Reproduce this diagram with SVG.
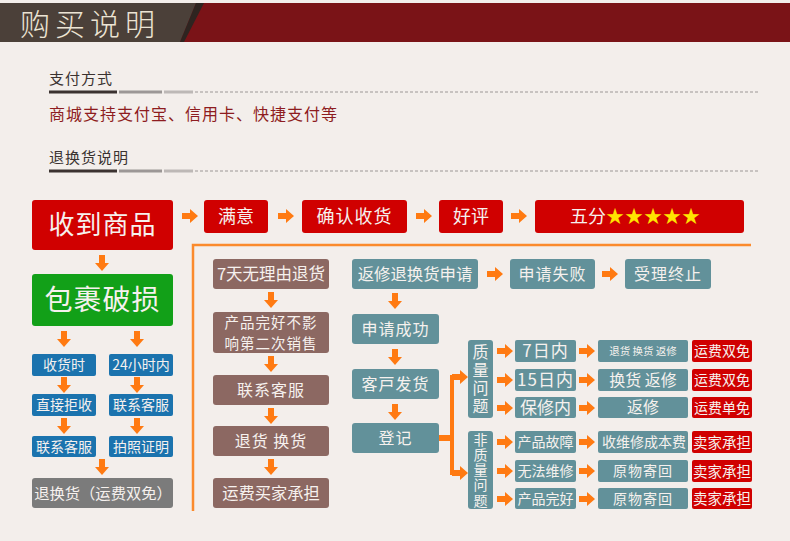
<svg xmlns="http://www.w3.org/2000/svg" width="790" height="541" viewBox="0 0 790 541">
<defs>
<style>
text{font-family:"Noto Sans CJK SC","Noto Sans",sans-serif;text-anchor:middle}
.w{fill:#f6f1ee}
.v{writing-mode:vertical-rl}
.red{fill:#d00000}
.grn{fill:#12a018}
.blu{fill:#1b73ae}
.gry{fill:#7b7b7b}
.brn{fill:#8c6862}
.tea{fill:#62919a}
.arr{fill:#ff7a12}
.ul1{stroke:#3b3230;stroke-width:3}
.ul2{stroke:#9c9796;stroke-width:3}
.ul3{stroke:#bdb8b6;stroke-width:3}
.ul4{stroke:#9c9796;stroke-width:1;stroke-dasharray:3 2}
</style>
<path id="ra" d="M0,-3 H8 V-7 L16,0 L8,7 V3 H0 Z"/>
<path id="da" d="M-3,0 V8 H-7 L0,16 L7,8 H3 V0 Z"/>
</defs>
<rect width="790" height="541" fill="#f3eeeb"/>
<!-- header -->
<g id="header">
<rect x="0" y="3" width="790" height="39" fill="#7a1317"/>
<polygon points="0,3 196,3 180,42 0,42" fill="#4b4039"/>
<polygon points="196,3 204,3 184,42 180,42" fill="#2e2420"/>
<text x="90" y="35" font-size="30" letter-spacing="5" fill="#ece4d4" style="font-weight:300">购买说明</text>
</g>
<g id="payment">
<text x="49" y="84" font-size="15" fill="#3a3230" style="text-anchor:start" letter-spacing="1">支付方式</text>
<line class="ul1" x1="49" y1="92" x2="117" y2="92"/>
<line class="ul2" x1="119" y1="92" x2="162" y2="92"/>
<line class="ul3" x1="164" y1="92" x2="193" y2="92"/>
<line class="ul4" x1="195" y1="92" x2="760" y2="92"/>
<text x="49" y="120" font-size="16" fill="#8e1c20" style="text-anchor:start" letter-spacing="1">商城支持支付宝、信用卡、快捷支付等</text>
</g>
<g id="returns-title">
<text x="49" y="163" font-size="15" fill="#3a3230" style="text-anchor:start" letter-spacing="1">退换货说明</text>
<line class="ul1" x1="49" y1="171" x2="117" y2="171"/>
<line class="ul2" x1="119" y1="171" x2="162" y2="171"/>
<line class="ul3" x1="164" y1="171" x2="193" y2="171"/>
<line class="ul4" x1="195" y1="171" x2="760" y2="171"/>
</g>
<!-- frame -->
<g id="frame" fill="none" stroke="#fb8a2c" stroke-width="2.5">
<polyline points="751,245 193,245 193,511"/>
</g>
<!-- connectors -->
<g id="connectors" class="arr">
<use href="#ra" x="182" y="216"/>
<use href="#ra" x="278" y="216"/>
<use href="#ra" x="416" y="216"/>
<use href="#ra" x="511" y="216"/>
<use href="#da" x="102" y="255"/>
<use href="#da" x="64" y="331"/>
<use href="#da" x="137" y="331"/>
<use href="#da" x="64" y="377"/>
<use href="#da" x="137" y="377"/>
<use href="#da" x="64" y="418"/>
<use href="#da" x="137" y="418"/>
<use href="#da" x="102" y="459"/>
<use href="#da" x="271" y="292"/>
<use href="#da" x="271" y="356"/>
<use href="#da" x="271" y="408"/>
<use href="#da" x="271" y="459"/>
<use href="#ra" x="487" y="274"/>
<use href="#ra" x="602" y="274"/>
<use href="#da" x="395" y="293"/>
<use href="#da" x="395" y="349"/>
<use href="#da" x="395" y="404"/>
<rect x="439" y="435" width="13" height="6"/>
<rect x="450" y="375" width="4" height="100"/>
<use href="#ra" x="452" y="377"/>
<use href="#ra" x="452" y="473"/>
<use href="#ra" x="497" y="351"/>
<use href="#ra" x="497" y="380"/>
<use href="#ra" x="497" y="408"/>
<use href="#ra" x="497" y="442"/>
<use href="#ra" x="497" y="471"/>
<use href="#ra" x="497" y="499"/>
<use href="#ra" x="579" y="351"/>
<use href="#ra" x="579" y="380"/>
<use href="#ra" x="579" y="408"/>
<use href="#ra" x="579" y="442"/>
<use href="#ra" x="579" y="471"/>
<use href="#ra" x="579" y="499"/>
</g>
<!-- top row -->
<g id="n-receive"><rect class="red" x="32" y="200" width="141" height="50" rx="3"/><text class="w" x="102.5" y="234" font-size="26" letter-spacing="1">收到商品</text></g>
<g id="n-satisfied"><rect class="red" x="204" y="200" width="64" height="33" rx="3"/><text class="w" x="236" y="223" font-size="18">满意</text></g>
<g id="n-confirm"><rect class="red" x="302" y="200" width="105" height="33" rx="3"/><text class="w" x="354.5" y="223" font-size="18" letter-spacing="1">确认收货</text></g>
<g id="n-good"><rect class="red" x="439" y="200" width="64" height="33" rx="3"/><text class="w" x="471" y="223" font-size="18">好评</text></g>
<g id="n-five"><rect class="red" x="535" y="200" width="209" height="33" rx="3"/><text class="w" x="570" y="223" font-size="18" style="text-anchor:start">五分<tspan fill="#ffe400" letter-spacing="1">★★★★★</tspan></text></g>
<!-- left column -->
<g id="n-damaged"><rect class="grn" x="32" y="274" width="141" height="52" rx="3"/><text class="w" x="102.5" y="310" font-size="28" letter-spacing="1">包裹破损</text></g>
<g id="n-onreceipt"><rect class="blu" x="32" y="354" width="64" height="22" rx="2"/><text class="w" x="64" y="370" font-size="14">收货时</text></g>
<g id="n-24h"><rect class="blu" x="109" y="354" width="64" height="22" rx="2"/><text class="w" x="141" y="370" font-size="14">24小时内</text></g>
<g id="n-reject"><rect class="blu" x="32" y="394" width="64" height="22" rx="2"/><text class="w" x="64" y="410" font-size="14">直接拒收</text></g>
<g id="n-cs1"><rect class="blu" x="109" y="394" width="64" height="22" rx="2"/><text class="w" x="141" y="410" font-size="14">联系客服</text></g>
<g id="n-cs2"><rect class="blu" x="32" y="436" width="64" height="21" rx="2"/><text class="w" x="64" y="451.5" font-size="14">联系客服</text></g>
<g id="n-photo"><rect class="blu" x="109" y="436" width="64" height="21" rx="2"/><text class="w" x="141" y="451.5" font-size="14">拍照证明</text></g>
<g id="n-return-free"><rect class="gry" x="32" y="478" width="141" height="30" rx="3"/><text class="w" x="103" y="498.5" font-size="15.3">退换货（运费双免）</text></g>
<!-- middle column -->
<g id="n-7day"><rect class="brn" x="213" y="259" width="116" height="30" rx="3"/><text class="w" x="271" y="279.5" font-size="16.5">7天无理由退货</text></g>
<g id="n-intact"><rect class="brn" x="213" y="312" width="116" height="41" rx="3"/><text class="w" x="271" y="327.5" font-size="14.5" letter-spacing="1">产品完好不影</text><text class="w" x="271" y="348.5" font-size="14.5" letter-spacing="1">响第二次销售</text></g>
<g id="n-cs3"><rect class="brn" x="213" y="375" width="116" height="30" rx="3"/><text class="w" x="271" y="395.5" font-size="16" letter-spacing="1">联系客服</text></g>
<g id="n-exchange"><rect class="brn" x="213" y="426" width="116" height="30" rx="3"/><text class="w" x="271" y="446.5" font-size="16" letter-spacing="1">退货 换货</text></g>
<g id="n-buyer"><rect class="brn" x="213" y="478" width="116" height="30" rx="3"/><text class="w" x="271" y="498.5" font-size="16.3">运费买家承担</text></g>
<!-- right area -->
<g id="n-apply"><rect class="tea" x="352" y="259" width="126" height="30" rx="3"/><text class="w" x="415" y="279.5" font-size="16.4">返修退换货申请</text></g>
<g id="n-fail"><rect class="tea" x="510" y="259" width="85" height="30" rx="3"/><text class="w" x="552.5" y="279.5" font-size="16" letter-spacing="1">申请失败</text></g>
<g id="n-end"><rect class="tea" x="625" y="259" width="86" height="30" rx="3"/><text class="w" x="668" y="279.5" font-size="16" letter-spacing="1">受理终止</text></g>
<g id="n-success"><rect class="tea" x="352" y="314" width="87" height="30" rx="3"/><text class="w" x="395.5" y="334.5" font-size="16" letter-spacing="1">申请成功</text></g>
<g id="n-ship"><rect class="tea" x="352" y="369" width="87" height="30" rx="3"/><text class="w" x="395.5" y="389.5" font-size="16" letter-spacing="1">客戸发货</text></g>
<g id="n-register"><rect class="tea" x="352" y="423" width="87" height="30" rx="3"/><text class="w" x="395.5" y="443.5" font-size="16" letter-spacing="1">登记</text></g>
<g id="n-quality"><rect class="tea" x="468" y="340" width="25" height="78" rx="3"/><text class="w v" x="480.5" y="380" font-size="16" letter-spacing="2">质量问题</text></g>
<g id="n-nonquality"><rect class="tea" x="468" y="431" width="25" height="78" rx="3"/><text class="w v" x="480.5" y="470.5" font-size="14" letter-spacing="1.2">非质量问题</text></g>
<g id="n-d7"><rect class="tea" x="515" y="340" width="61" height="22" rx="2"/><text class="w" x="545.5" y="357" font-size="17" letter-spacing="1">7日内</text></g>
<g id="n-d15"><rect class="tea" x="515" y="369" width="61" height="22" rx="2"/><text class="w" x="545.5" y="386" font-size="17" letter-spacing="1">15日内</text></g>
<g id="n-warranty"><rect class="tea" x="515" y="397" width="61" height="21" rx="2"/><text class="w" x="545.5" y="413.5" font-size="17">保修内</text></g>
<g id="n-fault"><rect class="tea" x="515" y="431" width="61" height="22" rx="2"/><text class="w" x="545.5" y="447" font-size="14">产品故障</text></g>
<g id="n-unrepair"><rect class="tea" x="515" y="460" width="61" height="22" rx="2"/><text class="w" x="545.5" y="476" font-size="14">无法维修</text></g>
<g id="n-good2"><rect class="tea" x="515" y="488" width="61" height="21" rx="2"/><text class="w" x="545.5" y="503.5" font-size="14">产品完好</text></g>
<g id="n-r1"><rect class="tea" x="598" y="340" width="90" height="22" rx="2"/><text class="w" x="643" y="355" font-size="10.5">退货 换货 返修</text></g>
<g id="n-r2"><rect class="tea" x="598" y="369" width="90" height="22" rx="2"/><text class="w" x="643" y="385.5" font-size="16">换货 返修</text></g>
<g id="n-r3"><rect class="tea" x="598" y="397" width="90" height="21" rx="2"/><text class="w" x="643" y="413" font-size="16">返修</text></g>
<g id="n-r4"><rect class="tea" x="598" y="431" width="90" height="22" rx="2"/><text class="w" x="644" y="447" font-size="14">收维修成本费</text></g>
<g id="n-r5"><rect class="tea" x="598" y="460" width="90" height="22" rx="2"/><text class="w" x="643" y="476" font-size="14" letter-spacing="1">原物寄回</text></g>
<g id="n-r6"><rect class="tea" x="598" y="488" width="90" height="21" rx="2"/><text class="w" x="643" y="503.5" font-size="14" letter-spacing="1">原物寄回</text></g>
<g id="n-f1"><rect class="red" x="692" y="340" width="60" height="22" rx="2"/><text class="w" x="722" y="356" font-size="14">运费双免</text></g>
<g id="n-f2"><rect class="red" x="692" y="369" width="60" height="22" rx="2"/><text class="w" x="722" y="385" font-size="14">运费双免</text></g>
<g id="n-f3"><rect class="red" x="692" y="397" width="60" height="21" rx="2"/><text class="w" x="722" y="412.5" font-size="14">运费单免</text></g>
<g id="n-f4"><rect class="red" x="692" y="431" width="60" height="22" rx="2"/><text class="w" x="722" y="447.5" font-size="14.5">卖家承担</text></g>
<g id="n-f5"><rect class="red" x="692" y="460" width="60" height="22" rx="2"/><text class="w" x="722" y="476.5" font-size="14.5">卖家承担</text></g>
<g id="n-f6"><rect class="red" x="692" y="488" width="60" height="21" rx="2"/><text class="w" x="722" y="504" font-size="14.5">卖家承担</text></g>
</svg>
